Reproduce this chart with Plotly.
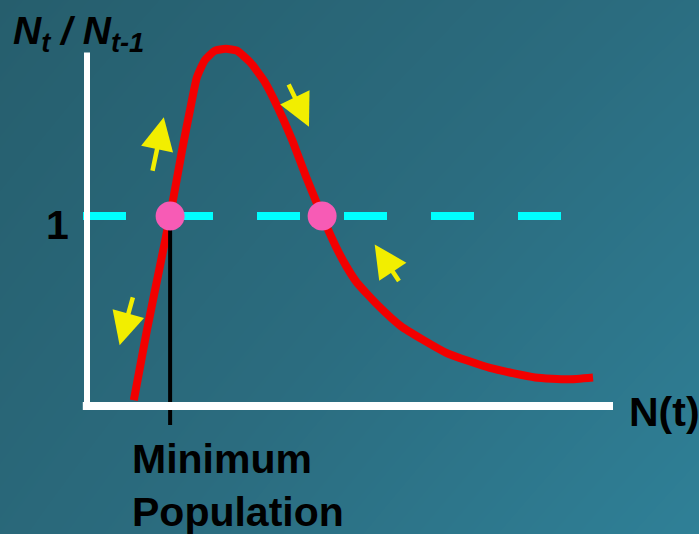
import plotly.graph_objects as go

# Per-generation growth ratio N_t / N_(t-1) as a function of population N(t)
pop_n = [0.89, 1.14, 1.39, 1.58, 1.81, 1.96, 2.09, 2.24, 2.43, 2.64, 2.85, 3.10,
         3.37, 3.63, 3.90, 4.16, 4.47, 4.73, 4.92, 5.13, 5.53, 5.97, 6.83, 7.66,
         8.52, 9.14, 9.62]
growth_ratio = [0.03, 0.40, 0.74, 1.00, 1.35, 1.56, 1.73, 1.82, 1.87, 1.88, 1.87, 1.81,
                1.71, 1.57, 1.40, 1.21, 1.00, 0.84, 0.74, 0.65, 0.53, 0.42, 0.28, 0.20,
                0.15, 0.14, 0.15]

# Equilibria where the ratio equals 1
equilibrium_n = [1.58, 4.47]
equilibrium_ratio = [1.0, 1.0]
minimum_population = 1.58

# Direction-of-change arrows: (tail N, tail ratio, head N, head ratio)
arrows = [
    (1.24, 1.23, 1.46, 1.52),
    (3.82, 1.70, 4.22, 1.47),
    (5.95, 0.65, 5.47, 0.85),
    (0.88, 0.58, 0.62, 0.32),
]

x_range = [-1.654, 11.635]
y_range = [-0.674, 2.137]

FONT = "Liberation Sans, Arial, sans-serif"

fig = go.Figure()

# Teal backdrop, darker toward the top-left
fig.add_trace(go.Heatmap(
    x=x_range, y=y_range,
    z=[[0.35, 1.0], [0.0, 0.55]],
    colorscale=[[0, "#265e6d"], [0.5, "#2b6c7f"], [1, "#2f8097"]],
    zsmooth="best", showscale=False, hoverinfo="skip",
))

# Reference level ratio = 1
fig.add_trace(go.Scatter(
    x=[-0.076, 9.07], y=[1, 1], mode="lines",
    line=dict(color="#00ffff", width=8, dash="43px,44px"),
    hoverinfo="skip", showlegend=False,
))

# Growth ratio curve
fig.add_trace(go.Scatter(
    x=pop_n, y=growth_ratio, mode="lines",
    line=dict(color="#f20000", width=8, shape="spline", smoothing=0.5),
    hoverinfo="skip", showlegend=False,
))

# Marker for the minimum viable population
fig.add_trace(go.Scatter(
    x=[minimum_population, minimum_population], y=[1.0, -0.10], mode="lines",
    line=dict(color="black", width=4),
    hoverinfo="skip", showlegend=False,
))

fig.add_trace(go.Scatter(
    x=equilibrium_n, y=equilibrium_ratio, mode="markers",
    marker=dict(color="#f75bb5", size=29, line=dict(width=0)),
    hoverinfo="skip", showlegend=False,
))

# Axes drawn as white bars crossing at the origin
fig.add_shape(type="line", x0=0, x1=0, y0=-0.02, y1=1.86,
              line=dict(color="white", width=6))
fig.add_shape(type="line", x0=-0.08, x1=10.0, y0=0, y1=0,
              line=dict(color="white", width=8))

for tx, ty, hx, hy in arrows:
    fig.add_annotation(
        x=hx, y=hy, ax=tx, ay=ty, xref="x", yref="y", axref="x", ayref="y",
        text="", showarrow=True, arrowhead=2, arrowsize=1.45, arrowwidth=4.5,
        arrowcolor="#f2ee00", standoff=0, startstandoff=0,
    )

text_font = dict(family=FONT, size=41, color="black")

fig.add_annotation(x=-0.57, y=0.95, xref="x", yref="y", text="<b>1</b>",
                   showarrow=False, xanchor="center", yanchor="middle", font=text_font)
fig.add_annotation(x=10.27, y=-0.03, xref="x", yref="y", text="<b>N(t)</b>",
                   showarrow=False, xanchor="left", yanchor="middle", font=text_font)
fig.add_annotation(x=0.82, y=-0.15, xref="x", yref="y",
                   text="<b>Minimum<br>Population</b>", align="left",
                   showarrow=False, xanchor="left", yanchor="top", font=text_font)
fig.add_annotation(x=-1.45, y=1.96, xref="x", yref="y",
                   text="<b><i>N<sub>t</sub> / N<sub>t-1</sub></i></b>",
                   showarrow=False, xanchor="left", yanchor="middle",
                   font=dict(family=FONT, size=39, color="black"))

fig.update_layout(
    width=699, height=534,
    margin=dict(l=0, r=0, t=0, b=0),
    paper_bgcolor="#2a6a7c", plot_bgcolor="#2a6a7c",
    xaxis=dict(range=x_range, visible=False, fixedrange=True),
    yaxis=dict(range=y_range, visible=False, fixedrange=True),
    showlegend=False,
)

fig.write_html("out.html")
